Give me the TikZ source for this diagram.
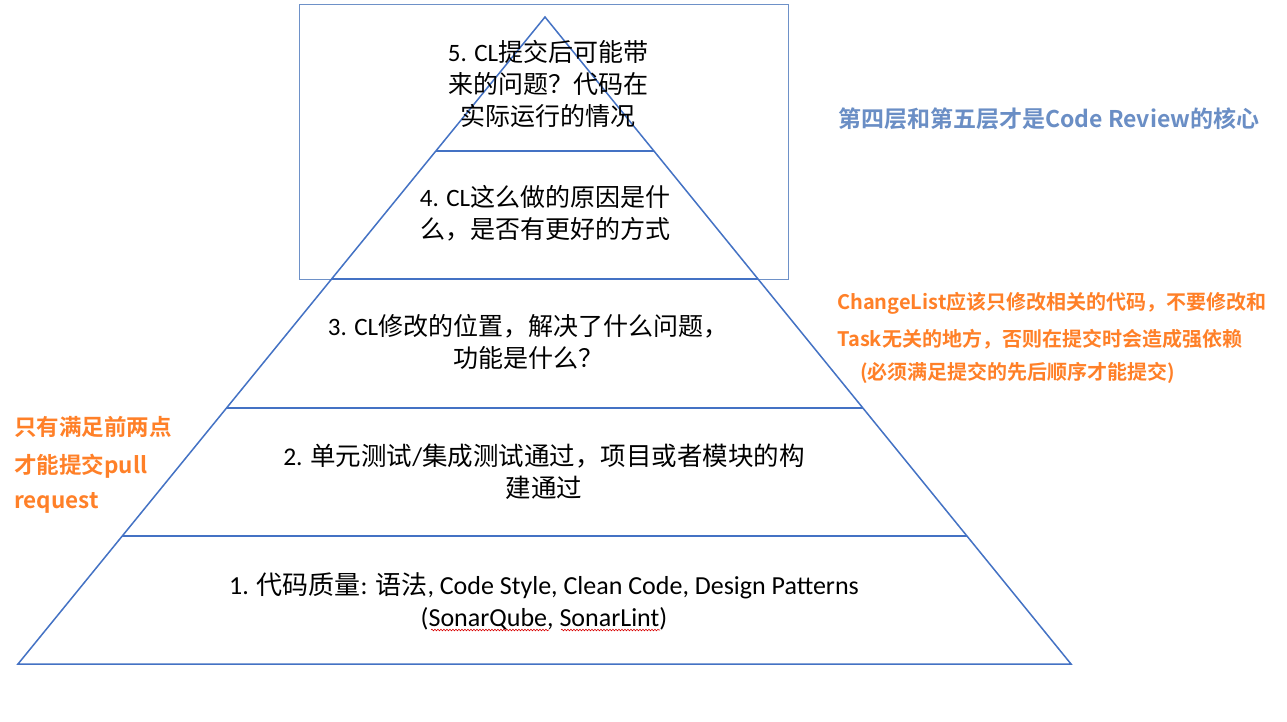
\documentclass[tikz,border=0pt]{standalone}
\usepackage{fontspec}
\setmainfont{Carlito}
\newfontfamily\cjk{Noto Sans CJK SC}
\newfontfamily\cjkb{Noto Sans CJK SC Bold}
\usetikzlibrary{calc,decorations.pathmorphing}
\definecolor{pyr}{RGB}{68,114,196}
\definecolor{boxc}{RGB}{110,145,200}
\definecolor{noteblue}{RGB}{106,142,197}
\definecolor{noteorange}{RGB}{255,128,40}
\begin{document}
\begin{tikzpicture}[x=1pt,y=-1pt,
  pyrline/.style={draw=pyr,line width=1.5pt},
  lvl/.style={align=center,font=\fontsize{25}{32}\selectfont,inner sep=0pt,text=black},
  bluenote/.style={anchor=west,inner sep=0pt,text=noteblue,font=\cjkb\fontsize{23}{26}\selectfont},
  orangenote/.style={anchor=west,inner sep=0pt,text=noteorange,font=\cjkb\fontsize{20}{24}\selectfont},
  leftnote/.style={orangenote,font=\cjkb\fontsize{22.5}{26}\selectfont},
  squiggle/.style={draw=red!85!black,line width=0.6pt,decorate,decoration={snake,segment length=3pt,amplitude=0.8pt}}]
\useasboundingbox[fill=white] (0,0) rectangle (1287,721);
% highlight frame
\draw[boxc,line width=1pt] (299.5,4.5) rectangle (788.5,279.5);
% pyramid
\coordinate (apex) at (545,17);
\coordinate (bl) at (18,664);
\coordinate (br) at (1071,664);
\draw[pyrline,line join=miter] (apex) -- (bl) -- (br) -- cycle;
\foreach \t/\n in {0.2071/a,0.4049/b,0.6043/c,0.8022/d}{
  \draw[pyrline] ($(apex)!\t!(bl)$) -- ($(apex)!\t!(br)$);
}
% level texts
\node[lvl] (l5) at (548,84) {5. CL{\cjk 提交后可能带}\\{\cjk 来的问题？代码在}\\{\cjk 实际运行的情况}};
\node[lvl] (l4) at (545,213) {4. CL{\cjk 这么做的原因是什}\\{\cjk 么，是否有更好的方式}};
\node[lvl] (l3) at (528,342) {3. CL{\cjk 修改的位置，解决了什么问题，}\\{\cjk 功能是什么？}};
\node[lvl,font=\fontsize{25.5}{32}\selectfont] (l2) at (544,472) {2. {\cjk 单元测试}/{\cjk 集成测试通过，项目或者模块的构}\\{\cjk 建通过}};
\node[lvl,font=\fontsize{26}{32}\selectfont] (l1) at (544,601) {1. {\cjk 代码质量}: {\cjk 语法}, Code Style, Clean Code, Design Patterns\\(SonarQube, SonarLint)};
% spell-check underlines
\coordinate (s1a) at (431,630);
\coordinate (s1b) at (549,630);
\coordinate (s2a) at (561,630);
\coordinate (s2b) at (660,630);
\draw[squiggle] (s1a) -- (s1b);
\draw[squiggle] (s2a) -- (s2b);
% notes
\node[bluenote] (n1) at (838,119) {第四层和第五层才是Code Review的核心};
\node[orangenote] (n2) at (837,303) {ChangeList应该只修改相关的代码，不要修改和};
\node[orangenote] (n3) at (837,339) {Task无关的地方，否则在提交时会造成强依赖};
\node[orangenote] (n4) at (860,373) {(必须满足提交的先后顺序才能提交)};
\node[leftnote] (n5) at (14,427) {只有满足前两点};
\node[leftnote] (n6) at (14,466) {才能提交pull};
\node[leftnote] (n7) at (14,503) {request};
\end{tikzpicture}
\end{document}
